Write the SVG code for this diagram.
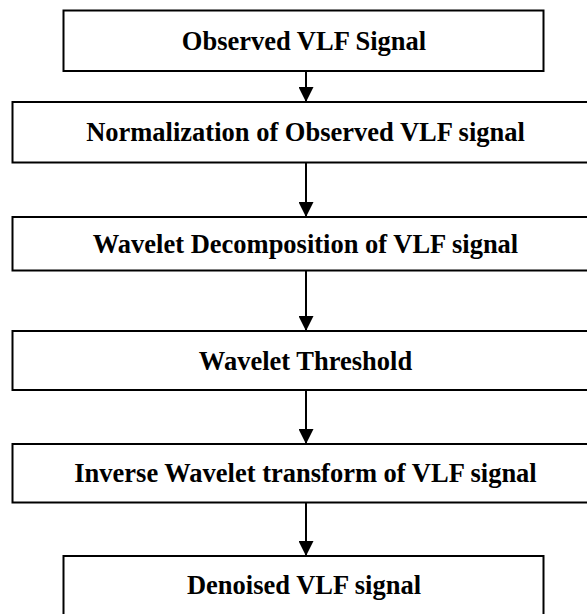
<svg xmlns="http://www.w3.org/2000/svg" width="587" height="614" viewBox="0 0 587 614">
<defs>
<style>
.box{fill:#fff;stroke:#000;stroke-width:2}
.lbl{font-family:"Liberation Serif","Times New Roman",serif;font-weight:bold;font-size:26.5px;fill:#000;text-anchor:middle}
.con{stroke:#000;stroke-width:2;fill:none}
</style>
<marker id="ah" markerWidth="15" markerHeight="15" refX="15" refY="7.5" orient="auto" markerUnits="userSpaceOnUse">
<path d="M0,0 L15,7.5 L0,15 Z" fill="#000"/>
</marker>
</defs>
<rect width="587" height="614" fill="#fff"/>
<g id="n1"><rect class="box" x="63.5" y="10.5" width="480" height="60.5"/><text class="lbl" x="304" y="49.5">Observed VLF Signal</text></g>
<g id="n2"><rect class="box" x="12.5" y="102" width="600" height="60.5"/><text class="lbl" x="305.5" y="141">Normalization of Observed VLF signal</text></g>
<g id="n3"><rect class="box" x="12.5" y="217" width="600" height="53.5"/><text class="lbl" x="305.5" y="253">Wavelet Decomposition of VLF signal</text></g>
<g id="n4"><rect class="box" x="12.5" y="331" width="600" height="59"/><text class="lbl" x="305.5" y="369.5">Wavelet Threshold</text></g>
<g id="n5"><rect class="box" x="12.5" y="444" width="600" height="58.5"/><text class="lbl" x="305.5" y="482">Inverse Wavelet transform of VLF signal</text></g>
<g id="n6"><rect class="box" x="63.5" y="556" width="480" height="70"/><text class="lbl" x="304" y="594">Denoised VLF signal</text></g>
<g id="connectors">
<line class="con" x1="306" y1="71" x2="306" y2="102" marker-end="url(#ah)"/>
<line class="con" x1="306" y1="162.5" x2="306" y2="217" marker-end="url(#ah)"/>
<line class="con" x1="306" y1="270.5" x2="306" y2="331" marker-end="url(#ah)"/>
<line class="con" x1="306" y1="390" x2="306" y2="444" marker-end="url(#ah)"/>
<line class="con" x1="306" y1="502.5" x2="306" y2="556" marker-end="url(#ah)"/>
</g>
</svg>
